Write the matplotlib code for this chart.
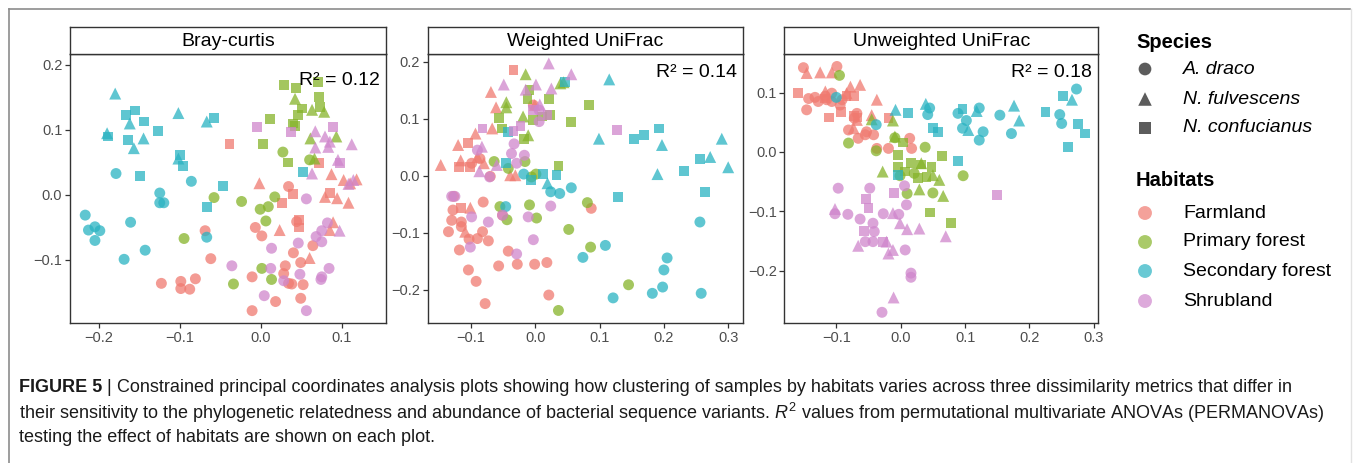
import matplotlib.pyplot as plt
from matplotlib.lines import Line2D

plt.rcParams['font.family'] = ['Liberation Sans', 'DejaVu Sans']
plt.rcParams['mathtext.fontset'] = 'custom'
plt.rcParams['mathtext.rm'] = 'Liberation Sans'
plt.rcParams['mathtext.it'] = 'Liberation Sans:italic'

# categories
metrics = ["Bray-curtis", "Weighted UniFrac", "Unweighted UniFrac"]
r2_values = [0.12, 0.14, 0.18]
habitats = ["Farmland", "Primary forest", "Secondary forest", "Shrubland"]
species = ["A. draco", "N. fulvescens", "N. confucianus"]
habitat_colors = ["#F07A70", "#86B42A", "#2AB3C2", "#CF86CC"]
species_markers = ["o", "^", "s"]

# ---- Bray-curtis: (CAP1, CAP2) per habitat and species ----
bc_farm_o = [(0.034, 0.013), (0.044, -0.041), (-0.007, -0.050), (0.001, -0.063), (-0.069, -0.055),
             (-0.062, -0.098), (0.040, -0.089), (0.064, -0.078), (0.049, -0.104), (0.030, -0.109),
             (0.028, -0.121), (0.034, -0.136), (0.038, -0.137), (0.052, -0.138), (-0.011, -0.126),
             (0.018, -0.164), (-0.011, -0.178), (0.049, -0.159), (-0.123, -0.136), (-0.099, -0.133),
             (-0.099, -0.144), (-0.088, -0.145), (-0.081, -0.129)]
bc_farm_t = [(-0.002, 0.018), (0.087, 0.032), (0.102, 0.023), (0.118, 0.024), (0.079, -0.003),
             (0.094, -0.005), (0.108, -0.012), (0.023, -0.054), (0.060, -0.097), (0.089, -0.042),
             (0.085, -0.054), (0.110, 0.018)]
bc_farm_s = [(-0.039, 0.078), (0.072, 0.049), (0.039, 0.002), (0.026, -0.012), (0.085, 0.003),
             (0.047, -0.038), (0.047, -0.050)]
bc_prim_o = [(0.027, 0.066), (0.060, 0.054), (-0.058, -0.004), (-0.024, -0.010), (0.017, -0.003),
             (0.009, -0.018), (-0.001, -0.022), (0.006, -0.040), (-0.095, -0.067), (0.001, -0.113),
             (0.013, -0.130), (-0.034, -0.137)]
bc_prim_t = [(0.042, 0.148), (0.063, 0.131), (0.078, 0.128), (0.061, 0.087), (0.093, 0.090),
             (0.066, 0.056)]
bc_prim_s = [(0.028, 0.169), (0.043, 0.165), (0.070, 0.174), (0.072, 0.151), (0.051, 0.133),
             (0.046, 0.123), (0.039, 0.110), (0.042, 0.106), (0.073, 0.135), (0.011, 0.117),
             (0.002, 0.078), (0.033, 0.050)]
bc_sec_o = [(-0.179, 0.033), (-0.125, 0.003), (-0.125, -0.012), (-0.120, -0.012), (-0.086, 0.021),
            (-0.217, -0.031), (-0.213, -0.054), (-0.205, -0.049), (-0.199, -0.055), (-0.205, -0.070),
            (-0.161, -0.042), (-0.143, -0.085), (-0.169, -0.099), (-0.067, -0.065)]
bc_sec_t = [(-0.180, 0.156), (-0.190, 0.095), (-0.162, 0.110), (-0.145, 0.087), (-0.157, 0.072),
            (-0.102, 0.126), (-0.067, 0.113), (-0.102, 0.056)]
bc_sec_s = [(-0.167, 0.123), (-0.156, 0.130), (-0.144, 0.113), (-0.127, 0.099), (-0.164, 0.084),
            (-0.189, 0.090), (-0.149, 0.029), (-0.100, 0.062), (-0.096, 0.045), (-0.058, 0.119),
            (-0.047, 0.014), (-0.067, -0.019), (0.052, 0.035)]
bc_shrub_o = [(0.056, -0.006), (0.013, -0.082), (0.046, -0.074), (0.068, -0.064), (0.075, -0.055),
              (0.082, -0.043), (0.075, -0.072), (-0.036, -0.109), (0.012, -0.113), (0.048, -0.122),
              (0.075, -0.126), (0.084, -0.113), (0.074, -0.130), (0.028, -0.132), (0.004, -0.155),
              (0.056, -0.178)]
bc_shrub_t = [(0.067, 0.098), (0.079, 0.090), (0.085, 0.082), (0.112, 0.078), (0.067, 0.073),
              (0.095, 0.054), (0.063, 0.033), (0.114, 0.023), (0.108, 0.017), (0.097, -0.055),
              (0.083, 0.074)]
bc_shrub_s = [(-0.005, 0.105), (0.037, 0.097), (0.089, 0.104), (0.098, 0.049)]

# ---- Weighted UniFrac ----
wu_farm_o = [(-0.099, 0.022), (-0.086, 0.030), (-0.070, -0.001), (-0.081, -0.046), (-0.127, -0.036),
             (-0.128, -0.060), (-0.130, -0.078), (-0.115, -0.081), (-0.135, -0.098), (-0.115, -0.089),
             (-0.103, -0.111), (-0.090, -0.110), (-0.082, -0.098), (-0.073, -0.114), (-0.118, -0.130),
             (-0.042, -0.132), (-0.057, -0.158), (-0.028, -0.155), (-0.001, -0.155), (0.018, -0.152),
             (-0.104, -0.165), (-0.092, -0.185), (-0.078, -0.224), (0.021, -0.209), (0.087, -0.057),
             (-0.051, -0.069), (-0.003, 0.124)]
wu_farm_t = [(-0.069, 0.147), (-0.061, 0.120), (-0.067, 0.083), (-0.093, 0.074), (-0.120, 0.054),
             (-0.147, 0.019), (-0.116, 0.027), (-0.090, 0.033), (-0.080, 0.022), (-0.039, 0.001),
             (-0.031, 0.001), (-0.101, -0.056), (-0.109, -0.098), (-0.001, 0.124)]
wu_farm_s = [(-0.034, 0.185), (-0.118, 0.016), (-0.102, 0.016), (-0.115, -0.057), (-0.104, 0.057)]
wu_prim_o = [(-0.064, 0.025), (-0.016, 0.025), (-0.055, -0.054), (-0.044, -0.077), (-0.009, -0.051),
             (0.002, -0.074), (0.001, 0.003), (0.052, -0.094), (0.081, -0.047), (0.086, -0.125),
             (0.145, -0.191), (0.036, -0.236), (-0.042, 0.013), (-0.006, -0.002)]
wu_prim_t = [(-0.015, 0.178), (-0.045, 0.129), (-0.045, 0.120), (-0.019, 0.104), (-0.011, 0.071),
             (0.044, 0.164), (0.039, 0.162)]
wu_prim_s = [(-0.056, 0.101), (-0.052, 0.083), (-0.012, 0.134), (-0.009, 0.150), (0.021, 0.134),
             (0.023, 0.106), (-0.003, 0.098), (0.055, 0.095), (0.083, 0.124), (-0.018, 0.065),
             (0.036, 0.017), (0.010, 0.104)]
wu_sec_o = [(-0.018, 0.003), (0.024, -0.028), (0.038, -0.031), (0.056, -0.021), (-0.046, -0.054),
            (0.109, -0.122), (0.074, -0.143), (0.256, -0.081), (0.205, -0.144), (0.200, -0.165),
            (0.198, -0.195), (0.182, -0.206), (0.258, -0.206), (0.121, -0.214)]
wu_sec_t = [(0.115, 0.169), (0.099, 0.065), (0.197, 0.054), (0.190, 0.003), (0.290, 0.065),
            (0.272, 0.033), (0.300, 0.015), (0.019, -0.013)]
wu_sec_s = [(0.046, 0.165), (-0.042, 0.077), (0.153, 0.065), (0.169, 0.071), (0.193, 0.083),
            (0.231, 0.009), (0.256, 0.029), (0.264, -0.028), (0.129, -0.037), (0.033, 0.001),
            (0.012, 0.003), (-0.007, -0.008), (-0.046, 0.023)]
wu_shrub_o = [(-0.090, 0.045), (-0.033, 0.056), (-0.037, 0.039), (-0.017, 0.036), (-0.029, 0.022),
              (-0.071, -0.002), (-0.130, -0.036), (-0.125, -0.036), (-0.099, -0.072), (-0.073, -0.081),
              (-0.051, -0.069), (-0.011, -0.072), (0.024, -0.053), (-0.003, -0.112), (-0.029, -0.137),
              (-0.101, -0.125), (0.006, 0.115), (0.006, 0.095)]
wu_shrub_t = [(0.021, 0.197), (0.056, 0.178), (-0.049, 0.160), (-0.015, 0.151), (0.001, 0.160),
              (0.025, 0.153), (0.007, 0.125), (-0.083, 0.051), (-0.087, 0.008), (-0.060, 0.019)]
wu_shrub_s = [(-0.082, 0.083), (-0.034, 0.078), (-0.023, 0.087), (0.127, 0.081), (0.019, 0.106),
              (-0.003, 0.115)]

# ---- Unweighted UniFrac ----
uu_farm_o = [(-0.151, 0.142), (-0.099, 0.144), (-0.143, 0.090), (-0.133, 0.092), (-0.117, 0.094),
             (-0.146, 0.071), (-0.128, 0.085), (-0.115, 0.088), (-0.107, 0.085), (-0.094, 0.079),
             (-0.091, 0.088), (-0.107, 0.099), (-0.068, 0.065), (-0.072, 0.057), (-0.053, 0.034),
             (-0.055, 0.029), (-0.042, 0.029), (-0.037, 0.006), (-0.019, 0.006), (0.014, 0.023),
             (0.017, 0.006), (-0.066, 0.023), (-0.081, 0.037)]
uu_farm_t = [(-0.146, 0.133), (-0.125, 0.134), (-0.107, 0.134), (-0.078, 0.110), (-0.063, 0.113),
             (-0.037, 0.088), (-0.117, 0.102), (-0.068, 0.054), (-0.073, 0.040), (-0.045, 0.062),
             (-0.084, 0.099)]
uu_farm_s = [(-0.160, 0.099), (-0.111, 0.058), (-0.093, 0.067), (-0.073, 0.060), (-0.067, 0.058),
             (-0.019, 0.057), (-0.084, 0.094), (-0.073, 0.094), (-0.117, 0.090)]
uu_prim_o = [(-0.095, 0.129), (-0.081, 0.015), (-0.038, 0.002), (-0.009, 0.024), (0.038, 0.008),
             (0.097, -0.040), (0.010, -0.070), (0.050, -0.069), (0.021, -0.036), (-0.001, -0.040)]
uu_prim_t = [(-0.012, 0.053), (-0.045, 0.055), (-0.028, -0.033), (-0.009, 0.026), (0.029, -0.063),
             (0.060, -0.047), (0.066, -0.074), (0.032, -0.019), (0.050, -0.039)]
uu_prim_s = [(0.004, 0.016), (-0.004, -0.005), (-0.004, -0.025), (0.016, -0.019), (0.032, -0.021),
             (0.027, -0.044), (0.048, -0.025), (0.064, -0.007), (0.045, -0.102), (0.078, -0.120),
             (0.007, -0.033), (0.040, -0.042)]
uu_sec_o = [(-0.038, 0.046), (0.045, 0.074), (0.042, 0.063), (0.089, 0.065), (0.102, 0.053),
            (0.096, 0.040), (0.122, 0.074), (0.128, 0.034), (0.122, 0.020), (0.154, 0.062),
            (0.172, 0.031), (0.247, 0.063), (0.250, 0.048), (0.273, 0.106), (-0.100, 0.092)]
uu_sec_t = [(-0.008, 0.071), (0.039, 0.081), (0.118, 0.069), (0.105, 0.037), (0.176, 0.078),
            (0.184, 0.053), (0.266, 0.088)]
uu_sec_s = [(0.011, 0.066), (0.050, 0.040), (0.058, 0.034), (0.096, 0.072), (0.225, 0.068),
            (0.252, 0.094), (0.260, 0.009), (0.275, 0.047), (0.286, 0.031), (0.089, -0.015),
            (-0.004, -0.039)]
uu_shrub_o = [(-0.097, -0.061), (-0.048, -0.061), (-0.102, -0.104), (-0.082, -0.105), (-0.063, -0.113),
              (-0.043, -0.120), (-0.041, -0.134), (-0.055, -0.151), (-0.043, -0.151), (-0.027, -0.104),
              (-0.003, -0.105), (0.006, -0.057), (0.009, -0.089), (0.007, -0.165), (0.016, -0.204),
              (0.016, -0.211), (-0.029, -0.270)]
uu_shrub_t = [(-0.102, -0.096), (-0.012, -0.103), (-0.001, -0.120), (0.010, -0.130), (0.029, -0.129),
              (0.070, -0.142), (-0.066, -0.158), (-0.022, -0.151), (-0.012, -0.165), (-0.019, -0.171),
              (-0.011, -0.245)]
uu_shrub_s = [(-0.054, -0.079), (-0.050, -0.095), (-0.010, -0.069), (-0.057, -0.133), (-0.027, -0.151),
              (0.150, -0.072)]

panel_data = [
    [[bc_farm_o, bc_farm_t, bc_farm_s], [bc_prim_o, bc_prim_t, bc_prim_s],
     [bc_sec_o, bc_sec_t, bc_sec_s], [bc_shrub_o, bc_shrub_t, bc_shrub_s]],
    [[wu_farm_o, wu_farm_t, wu_farm_s], [wu_prim_o, wu_prim_t, wu_prim_s],
     [wu_sec_o, wu_sec_t, wu_sec_s], [wu_shrub_o, wu_shrub_t, wu_shrub_s]],
    [[uu_farm_o, uu_farm_t, uu_farm_s], [uu_prim_o, uu_prim_t, uu_prim_s],
     [uu_sec_o, uu_sec_t, uu_sec_s], [uu_shrub_o, uu_shrub_t, uu_shrub_s]],
]
x_ticks = [[-0.2, -0.1, 0.0, 0.1], [-0.1, 0.0, 0.1, 0.2, 0.3], [-0.1, 0.0, 0.1, 0.2, 0.3]]
y_ticks = [[-0.1, 0.0, 0.1, 0.2], [-0.2, -0.1, 0.0, 0.1, 0.2], [-0.2, -0.1, 0.0, 0.1]]

# layout (pixels of a 1355x463 figure)
W, H = 1355, 463
panel_px = [(70, 386), (427.7, 743), (784.3, 1098)]
panel_top, panel_bot, strip_top = 54, 323, 27
x_lims = [(-0.2358, 0.1543), (-0.1673, 0.323), (-0.1807, 0.3064)]
y_lims = [(-0.197, 0.2169), (-0.258, 0.2135), (-0.288, 0.165)]
r2_baseline = [85, 76.7, 76.7]
point_sizes = [62, 74, 50]


def fmt(v):
    return f"{v:.1f}".replace("-", "\u2212")


fig = plt.figure(figsize=(W / 100, H / 100), dpi=100)

# overlay in pixel coordinates for frame, legend, caption
ov = fig.add_axes([0, 0, 1, 1], zorder=0)
ov.set_xlim(0, W)
ov.set_ylim(H, 0)
ov.axis("off")
ov.add_line(Line2D([9, 1350], [9, 9], color="#8c8c8c", lw=1.2))
ov.add_line(Line2D([9, 9], [9, H], color="#8c8c8c", lw=1.2))
ov.add_line(Line2D([1350.5, 1350.5], [9, H], color="#e2e2e2", lw=1))

for p in range(3):
    x0, x1 = panel_px[p]
    ax = fig.add_axes([x0 / W, 1 - panel_bot / H, (x1 - x0) / W, (panel_bot - panel_top) / H], zorder=2)
    for hi in range(4):
        for si in range(3):
            pts = panel_data[p][hi][si]
            ax.scatter([q[0] for q in pts], [q[1] for q in pts], s=point_sizes[si],
                       marker=species_markers[si], color=habitat_colors[hi],
                       alpha=0.75, edgecolors="none")
    ax.set_xlim(*x_lims[p])
    ax.set_ylim(*y_lims[p])
    ax.set_xticks(x_ticks[p])
    ax.set_xticklabels([fmt(v) for v in x_ticks[p]])
    ax.set_yticks(y_ticks[p])
    ax.set_yticklabels([fmt(v) for v in y_ticks[p]])
    ax.tick_params(direction="out", length=3.5, width=0.9, color="#333333",
                   labelcolor="#4d4d4d", labelsize=10.5, pad=2)
    for sp in ax.spines.values():
        sp.set_color("#333333")
        sp.set_linewidth(1.0)
    ax.text((x1 - 6 - x0) / (x1 - x0), (panel_bot - r2_baseline[p]) / (panel_bot - panel_top),
            f"R\u00b2 = {r2_values[p]:.2f}", transform=ax.transAxes, ha="right",
            va="baseline", fontsize=14, color="black")

    st = fig.add_axes([x0 / W, 1 - panel_top / H, (x1 - x0) / W, (panel_top - strip_top) / H], zorder=2)
    st.set_xticks([])
    st.set_yticks([])
    for sp in st.spines.values():
        sp.set_color("#333333")
        sp.set_linewidth(1.0)
    st.text(0.5, 0.45, metrics[p], ha="center", va="center", fontsize=14, transform=st.transAxes)

# legend
ov.text(1136, 42, "Species", fontsize=14.5, fontweight="bold", va="center", ha="left")
species_y = [69, 99, 128]
species_key_sizes = [84, 95, 72]
for si in range(3):
    ov.scatter([1145], [species_y[si]], s=species_key_sizes[si], marker=species_markers[si],
               color="#333333", alpha=0.8, edgecolors="none")
    ov.text(1183, species_y[si], species[si], fontsize=14, style="italic", va="center", ha="left")
ov.text(1136, 180, "Habitats", fontsize=14.5, fontweight="bold", va="center", ha="left")
habitat_y = [213, 242, 271, 301]
for hi in range(4):
    ov.scatter([1145], [habitat_y[hi]], s=100, marker="o", color=habitat_colors[hi],
               alpha=0.7, edgecolors="none")
    ov.text(1183, habitat_y[hi], habitats[hi], fontsize=14, va="center", ha="left")

# caption
cap_fs = 13
t1 = ov.text(19, 388, "FIGURE 5", fontsize=cap_fs, fontweight="bold", va="center", ha="left", color="#1a1a1a")
t2 = ov.annotate(" | ", xy=(1, 0), xycoords=t1, va="bottom", ha="left", fontsize=cap_fs, color="#1a1a1a")
ov.annotate("Constrained principal coordinates analysis plots showing how clustering of samples by "
            "habitats varies across three dissimilarity metrics that differ in",
            xy=(1, 0), xycoords=t2, va="bottom", ha="left", fontsize=cap_fs, color="#1a1a1a")
ov.text(19, 413, "their sensitivity to the phylogenetic relatedness and abundance of bacterial sequence "
        "variants. $\\mathit{R}^{2}$ values from permutational multivariate ANOVAs (PERMANOVAs)",
        fontsize=cap_fs, va="center", ha="left", color="#1a1a1a")
ov.text(19, 438, "testing the effect of habitats are shown on each plot.",
        fontsize=cap_fs, va="center", ha="left", color="#1a1a1a")

fig.savefig("out.png", dpi=100)
